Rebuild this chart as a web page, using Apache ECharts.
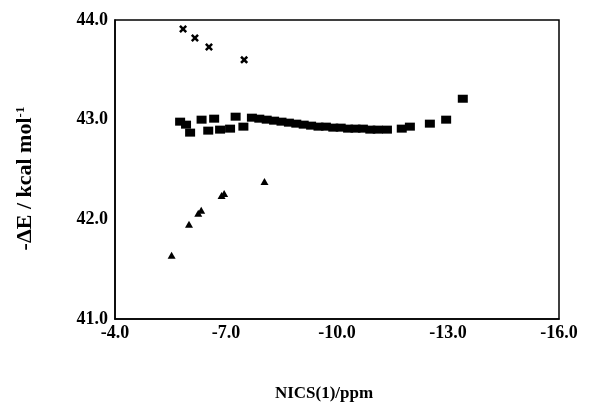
<!DOCTYPE html>
<html><head><meta charset="utf-8">
<script src="https://cdn.jsdelivr.net/npm/echarts@6/dist/echarts.min.js"></script>
<style>html,body{margin:0;padding:0;background:#fff}#c{width:601px;height:407px}</style>
</head><body><div id="c"></div>
<script>
// NICS(1) values (ppm) and -ΔE (kcal/mol)
const squaresX = [-5.76,-5.92,-6.03,-6.34,-6.68,-7.26,-6.52,-6.84,-7.11,-7.47,
  -7.70,-7.90,-8.10,-8.30,-8.50,-8.70,-8.90,-9.10,-9.30,-9.50,-9.70,-9.90,-10.10,-10.30,-10.50,-10.70,-10.90,-11.10,-11.35,
  -11.75,-11.97,-12.51,-12.95,-13.40];
const squaresY = [42.98,42.95,42.87,43.00,43.01,43.03,42.89,42.90,42.91,42.93,
  43.02,43.01,43.00,42.99,42.98,42.97,42.96,42.95,42.94,42.93,42.93,42.92,42.92,42.91,42.91,42.91,42.90,42.90,42.90,
  42.91,42.93,42.96,43.00,43.21];
const crossesX = [-5.84,-6.16,-6.54,-7.49];
const crossesY = [43.91,43.82,43.73,43.60];
const trianglesX = [-5.53,-6.00,-6.25,-6.33,-6.88,-6.95,-8.04];
const trianglesY = [41.64,41.95,42.06,42.09,42.24,42.26,42.38];
const xTicks = [-16,-13,-10,-7,-4];
const yTicks = [41,42,43,44];

const zip = (a,b)=>a.map((v,i)=>[v,b[i]]);
const font = 'Liberation Serif';
const chart = echarts.init(document.getElementById('c'), null, {renderer:'canvas'});
chart.setOption({
  animation:false,
  backgroundColor:'#fff',
  grid:{left:115,right:42,top:20,bottom:75,show:true,borderColor:'#000',borderWidth:1.5,backgroundColor:'transparent'},
  xAxis:{
    type:'value', inverse:true, min:xTicks[0], max:xTicks[xTicks.length-1], interval:3,
    splitLine:{show:false}, axisTick:{show:false},
    axisLine:{show:true,lineStyle:{color:'#000',width:1.5}},
    axisLabel:{formatter:v=>v.toFixed(1),color:'#000',fontFamily:font,fontWeight:'bold',fontSize:18,margin:5},
    name:'NICS(1)/ppm', nameLocation:'middle', nameGap:66,
    nameTextStyle:{color:'#000',fontFamily:font,fontWeight:'bold',fontSize:17,padding:[0,26,0,0]}
  },
  yAxis:{
    type:'value', min:yTicks[0], max:yTicks[yTicks.length-1], interval:1,
    splitLine:{show:false}, axisTick:{show:false},
    axisLine:{show:true,lineStyle:{color:'#000',width:1.5}},
    axisLabel:{formatter:v=>v.toFixed(1),color:'#000',fontFamily:font,fontWeight:'bold',fontSize:18,margin:7},
    name:'{a|-ΔE / kcal mol}{s|-1}', nameLocation:'middle', nameGap:78,
    nameTextStyle:{padding:[0,18,0,0],rich:{
      a:{color:'#000',fontFamily:font,fontWeight:'bold',fontSize:22},
      s:{color:'#000',fontFamily:font,fontWeight:'bold',fontSize:13,verticalAlign:'top',padding:[0,0,10,0]}
    }}
  },
  series:[
    {type:'scatter',data:zip(squaresX,squaresY),symbol:'rect',symbolSize:[10,8],itemStyle:{color:'#000',opacity:1}},
    {type:'scatter',data:zip(crossesX,crossesY),symbol:'path://M0,2.2L2.2,0L5,2.8L7.8,0L10,2.2L7.2,5L10,7.8L7.8,10L5,7.2L2.2,10L0,7.8L2.8,5Z',symbolSize:8,itemStyle:{color:'#000',opacity:1}},
    {type:'scatter',data:zip(trianglesX,trianglesY),symbol:'triangle',symbolSize:[8,7],itemStyle:{color:'#000',opacity:1}}
  ]
});
</script></body></html>
